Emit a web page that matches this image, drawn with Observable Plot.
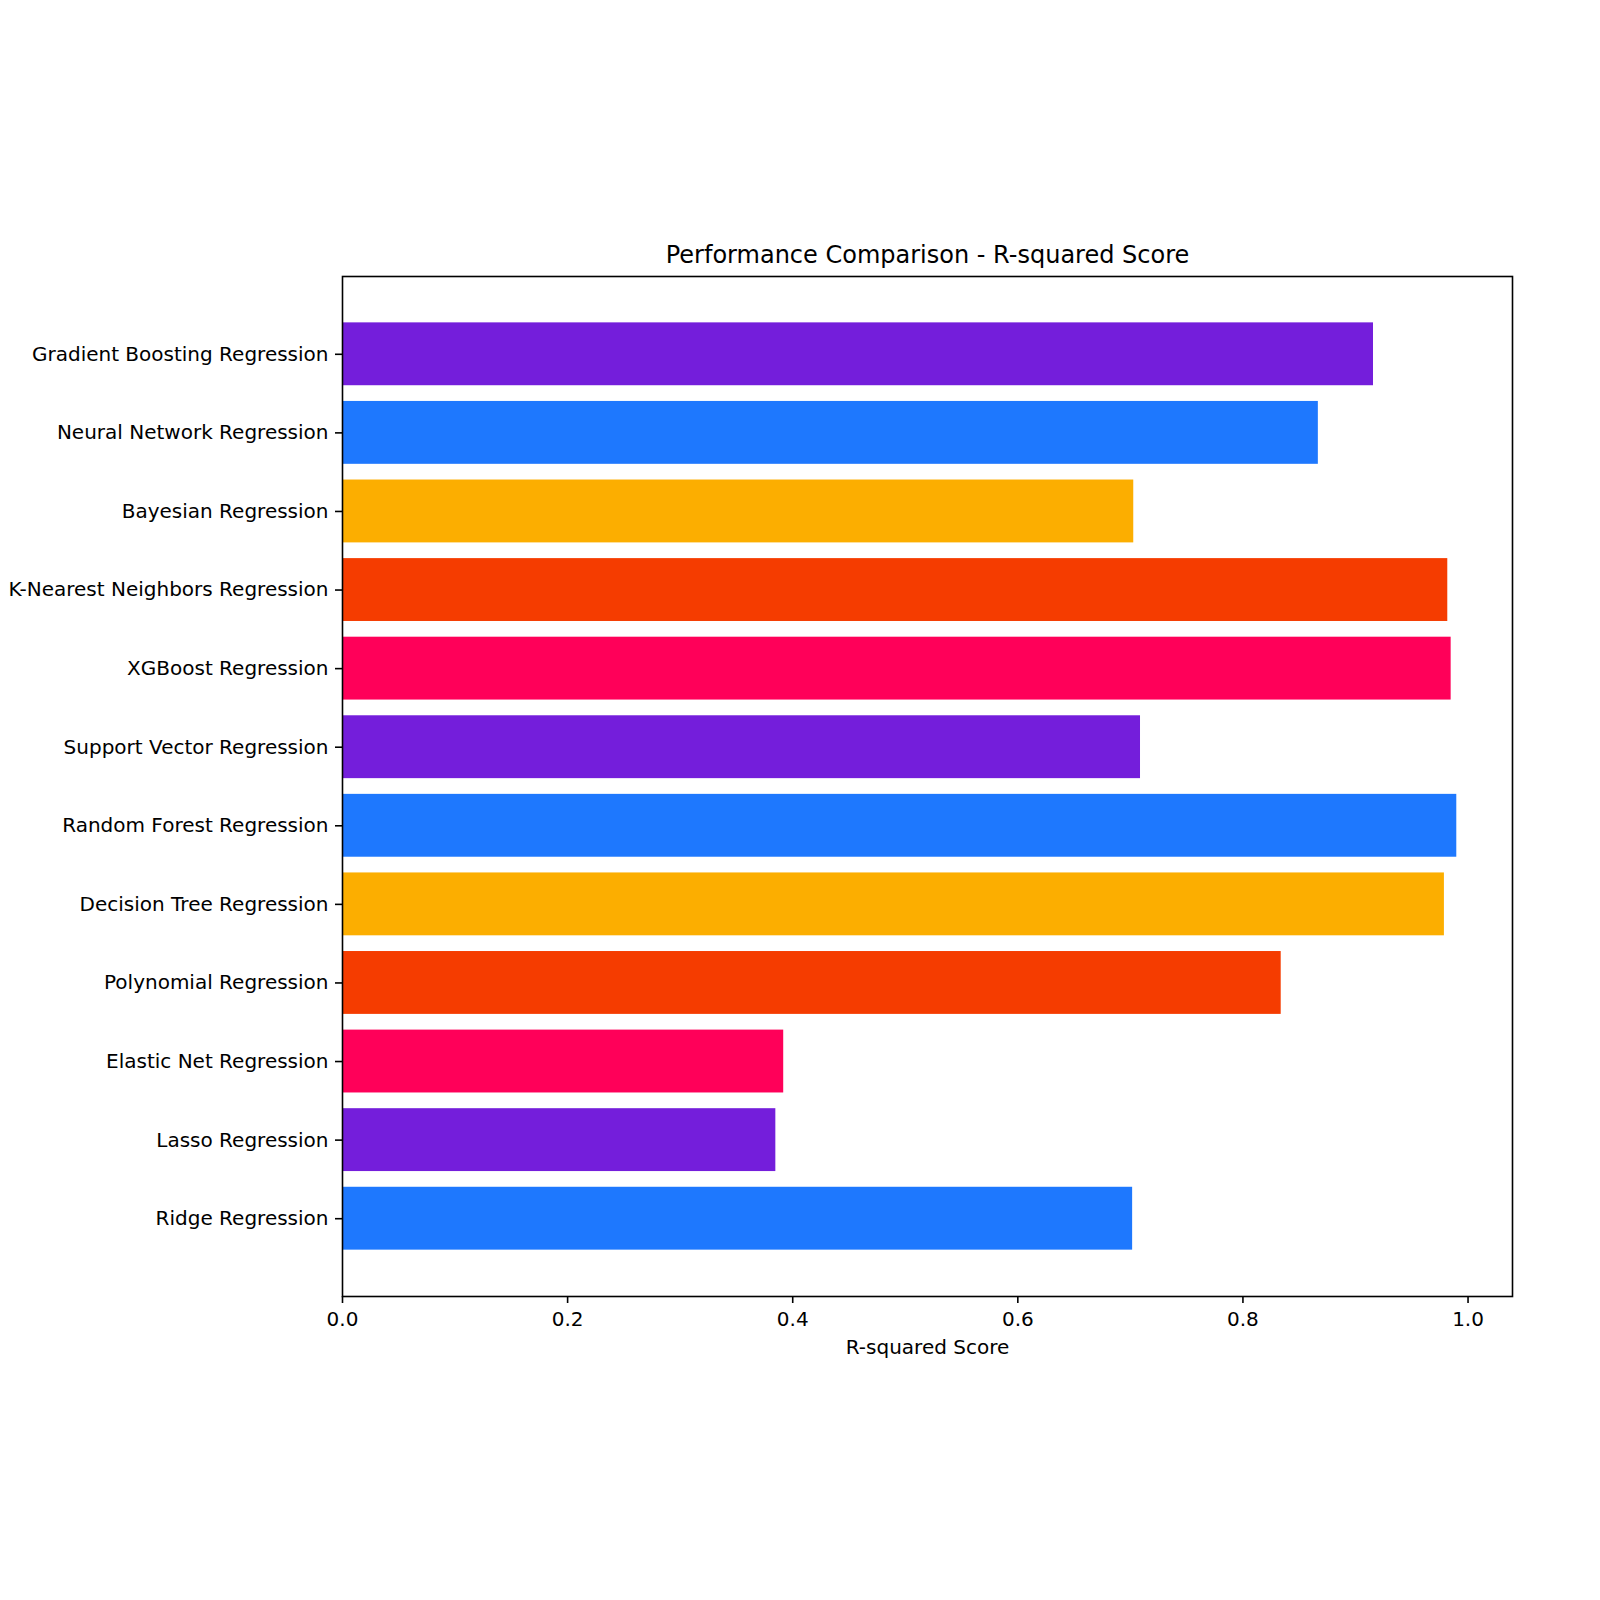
<!DOCTYPE html>
<html>
<head>
<meta charset="utf-8">
<script src="https://cdn.jsdelivr.net/npm/d3@7"></script>
<script src="https://cdn.jsdelivr.net/npm/@observablehq/plot@0.6"></script>
<style>
  body { margin: 0; background: #fff; }
  #chart svg { display: block; }
</style>
</head>
<body>
<div id="chart"></div>
<script>
// Models in plotting order (first one sits at the bottom of the chart)
const models = [
  "Ridge Regression",
  "Lasso Regression",
  "Elastic Net Regression",
  "Polynomial Regression",
  "Decision Tree Regression",
  "Random Forest Regression",
  "Support Vector Regression",
  "XGBoost Regression",
  "K-Nearest Neighbors Regression",
  "Bayesian Regression",
  "Neural Network Regression",
  "Gradient Boosting Regression"
];

// R-squared score of each model
const scores = [0.702, 0.385, 0.392, 0.834, 0.979, 0.990, 0.709, 0.985, 0.982, 0.703, 0.867, 0.916];

// Bar colours, cycled through the models
const palette = ["#1e78fe", "#741edb", "#ff0059", "#f53c00", "#fcae00"];

const xTicks = [0, 0.2, 0.4, 0.6, 0.8, 1.0];
const title = "Performance Comparison - R-squared Score";
const xLabel = "R-squared Score";

const rows = models.map((model, i) => ({model, score: scores[i]}));
const xMax = d3.max(scores) * 1.05;

const chart = Plot.plot({
  width: 1600,
  height: 1600,
  marginLeft: 342,
  marginRight: 88,
  marginTop: 276,
  marginBottom: 304,
  style: {fontFamily: "DejaVu Sans", fontSize: "20px", color: "#000", background: "#fff"},
  x: {domain: [0, xMax]},
  y: {domain: models.slice().reverse(), paddingInner: 0.2, paddingOuter: 0.59, round: false},
  color: {domain: models, range: models.map((_, i) => palette[i % palette.length])},
  marks: [
    Plot.barX(rows, {x: "score", y: "model", fill: "model"}),
    Plot.frame({stroke: "#000", strokeWidth: 1.6}),
    Plot.axisX({ticks: xTicks, tickFormat: d3.format(".1f"), tickSize: 7, tickPadding: 8, strokeWidth: 1.6, label: null}),
    Plot.axisY({tickSize: 7, tickPadding: 7, strokeWidth: 1.6, label: null}),
    Plot.text([title], {text: d => d, frameAnchor: "top", lineAnchor: "bottom", dy: -14, fontSize: 24}),
    Plot.text([xLabel], {text: d => d, frameAnchor: "bottom", lineAnchor: "top", dy: 43, fontSize: 20})
  ]
});

document.getElementById("chart").appendChild(chart);
</script>
</body>
</html>
